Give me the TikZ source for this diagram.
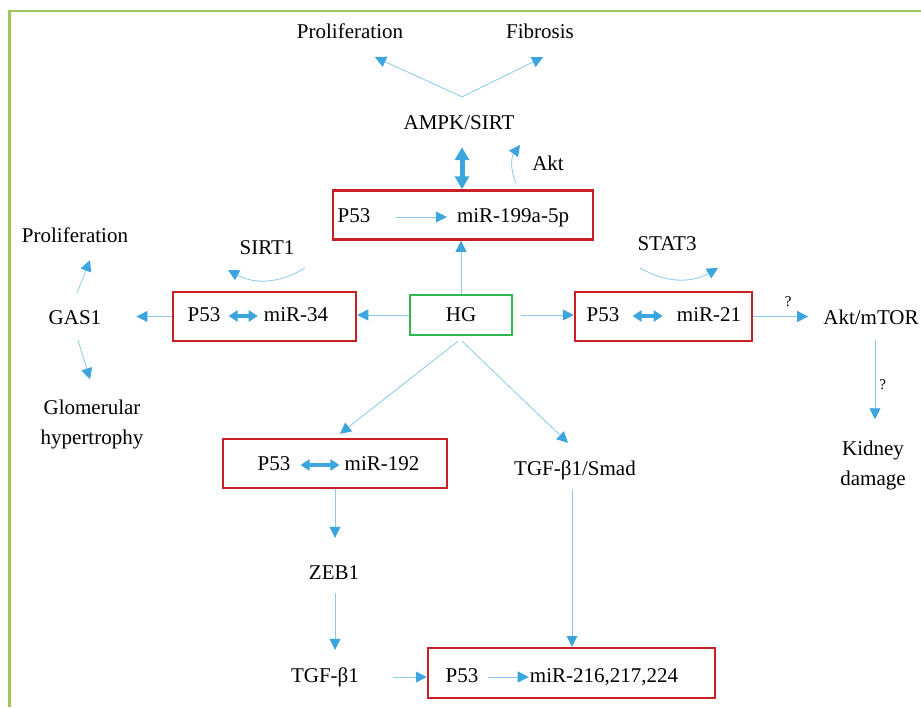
\documentclass[tikz,border=0pt]{standalone}
\usepackage{fontspec}
\setmainfont{Liberation Serif}
\usetikzlibrary{arrows.meta}

\definecolor{flowblue}{RGB}{60,165,222}
\definecolor{boxred}{RGB}{200,32,36}
\definecolor{boxgreen}{RGB}{45,185,80}
\definecolor{framegreen}{RGB}{155,200,90}

\begin{document}
\begin{tikzpicture}[x=1pt, y=-1pt,
		every node/.style={font=\fontsize{21}{30}\selectfont},
		lbl/.style={inner sep=0pt, text height=14pt, text depth=4pt},
		twoline/.style={inner sep=0pt, align=center},
		qmark/.style={inner sep=0pt, text=black, font=\fontsize{15}{18}\selectfont},
		redbox/.style={draw=boxred, line width=2.5pt, minimum height=49pt},
		hgbox/.style={draw=boxgreen, line width=2.5pt, minimum width=102pt, minimum height=40pt},
		arr/.style={flowblue!60, line width=0.8pt, -{Triangle[length=11pt, width=11pt, color=flowblue]}},
		dblarr/.style={flowblue, line width=3.4pt, {Triangle[length=9pt, width=11pt]}-{Triangle[length=9pt, width=11pt]}},
		bigdblarr/.style={flowblue, line width=5pt, {Triangle[length=13pt, width=14pt]}-{Triangle[length=13pt, width=14pt]}}]

	\useasboundingbox (0,0) rectangle (921,707);
	\draw[framegreen, line width=2.5pt]	(9.5,707) -- (9.5,11) -- (921,11);

	\node[lbl] (prolTop) at (350,33) {Proliferation};
	\node[lbl] (fibro) at (540,33) {Fibrosis};
	\node[lbl] (ampk) at (459,124) {AMPK/SIRT};
	\node[lbl] (akt) at (548,165) {Akt};

	\node[redbox, minimum width=260pt] (b199) at (463,215) {};
	\node[lbl] (p53a) at (354,217) {P53};
	\node[lbl] (mir199) at (513,217) {miR-199a-5p};

	\node[lbl] (sirt) at (267,249) {SIRT1};
	\node[lbl] (stat) at (667,245) {STAT3};
	\node[lbl] (prolLeft) at (75,237) {Proliferation};

	\node[hgbox] (hg) at (461,315) {HG};

	\node[redbox, minimum width=183pt] (b34) at (264.5,316.5) {};
	\node[lbl] (p53b) at (204,316) {P53};
	\node[lbl] (mir34) at (296,316) {miR-34};
	\node[lbl] (gas) at (75,319) {GAS1};

	\node[redbox, minimum width=177pt] (b21) at (663.5,316.5) {};
	\node[lbl] (p53c) at (603,316) {P53};
	\node[lbl] (mir21) at (709,316) {miR-21};
	\node[lbl] (aktm) at (871,319) {Akt/mTOR};

	\node[twoline] (glom) at (92,424) {Glomerular\\hypertrophy};
	\node[twoline] (kidney) at (873,465) {Kidney\\damage};

	\node[redbox, minimum width=224pt] (b192) at (335,463.5) {};
	\node[lbl] (p53d) at (274,465) {P53};
	\node[lbl] (mir192) at (382,465) {miR-192};
	\node[lbl] (smad) at (575,470) {TGF-β1/Smad};
	\node[lbl] (zeb) at (334,574) {ZEB1};
	\node[lbl] (tgf) at (325,677) {TGF-β1};

	\node[redbox, minimum width=287pt, minimum height=50pt] (b216) at (571.5,673) {};
	\node[lbl] (p53e) at (462,677) {P53};
	\node[lbl] (mir216) at (604,677) {miR-216,217,224};

	\draw[arr]	([shift={(3,-18)}]ampk.north) to ([shift={(25,15)}]prolTop.south);
	\draw[arr]	([shift={(3,-18)}]ampk.north) to ([shift={(3,15)}]fibro.south);
	\draw[bigdblarr]	([shift={(3,14)}]ampk.south) to ([shift={(-1,0)}]b199.north);
	\draw[arr]	([shift={(-32,18)}]akt.center) to[bend left=30] ([shift={(-28,-20)}]akt.center);
	\draw[arr, shorten <=25pt, shorten >=10pt]	(p53a.east) to (p53a.east -| mir199.west);
	\draw[arr]	(hg.north) to (hg.north |- b199.south);

	\draw[arr]	([shift={(38,19)}]sirt.center) to[bend left=30] ([shift={(-39,21)}]sirt.center);
	\draw[arr]	([shift={(-27,23)}]stat.center) to[bend right=30] ([shift={(51,23)}]stat.center);

	\draw[dblarr, shorten <=8pt, shorten >=6pt]	(p53b.east) to (p53b.east -| mir34.west);
	\draw[arr]	(hg.west) to (hg.west -| b34.east);
	\draw[arr, shorten >=35pt]	(b34.west) to (b34.west -| gas.east);
	\draw[arr]	([shift={(2,-17)}]gas.north) to ([shift={(15,14)}]prolLeft.south);
	\draw[arr]	([shift={(3,12)}]gas.south) to ([shift={(-2,-20)}]glom.north);

	\draw[arr, shorten <=8pt]	(hg.east) to (hg.east -| b21.west);
	\draw[dblarr, shorten <=13pt, shorten >=14pt]	(p53c.east) to (p53c.east -| mir21.west);
	\draw[arr, shorten >=15pt]	(b21.east) to node[qmark, midway, above=9pt] (q1) {?} (b21.east -| aktm.west);
	\draw[arr, shorten <=12pt, shorten >=21pt]	([xshift=4pt]aktm.south) to node[qmark, midway, right=4pt] (q2) {?} ([xshift=4pt]aktm.south |- kidney.north);

	\draw[arr]	([shift={(-3,5)}]hg.south) to ([shift={(5,-4)}]b192.north);
	\draw[arr]	([shift={(1,5)}]hg.south) to ([shift={(-7,-18)}]smad.north);
	\draw[dblarr, shorten <=10pt, shorten >=5pt]	(p53d.east) to (p53d.east -| mir192.west);
	\draw[arr, shorten >=27pt]	(b192.south) to (b192.south |- zeb.north);
	\draw[arr, shorten <=10pt, shorten >=18pt]	([xshift=1pt]zeb.south) to ([xshift=1pt]zeb.south |- tgf.north);
	\draw[arr, shorten <=34pt]	(tgf.east) to (tgf.east -| b216.west);
	\draw[arr, shorten <=11pt]	([xshift=-3pt]smad.south) to ([xshift=-3pt]smad.south |- b216.north);
	\draw[arr, shorten <=9pt, shorten >=1pt]	(p53e.east) to (p53e.east -| mir216.west);
\end{tikzpicture}
\end{document}
